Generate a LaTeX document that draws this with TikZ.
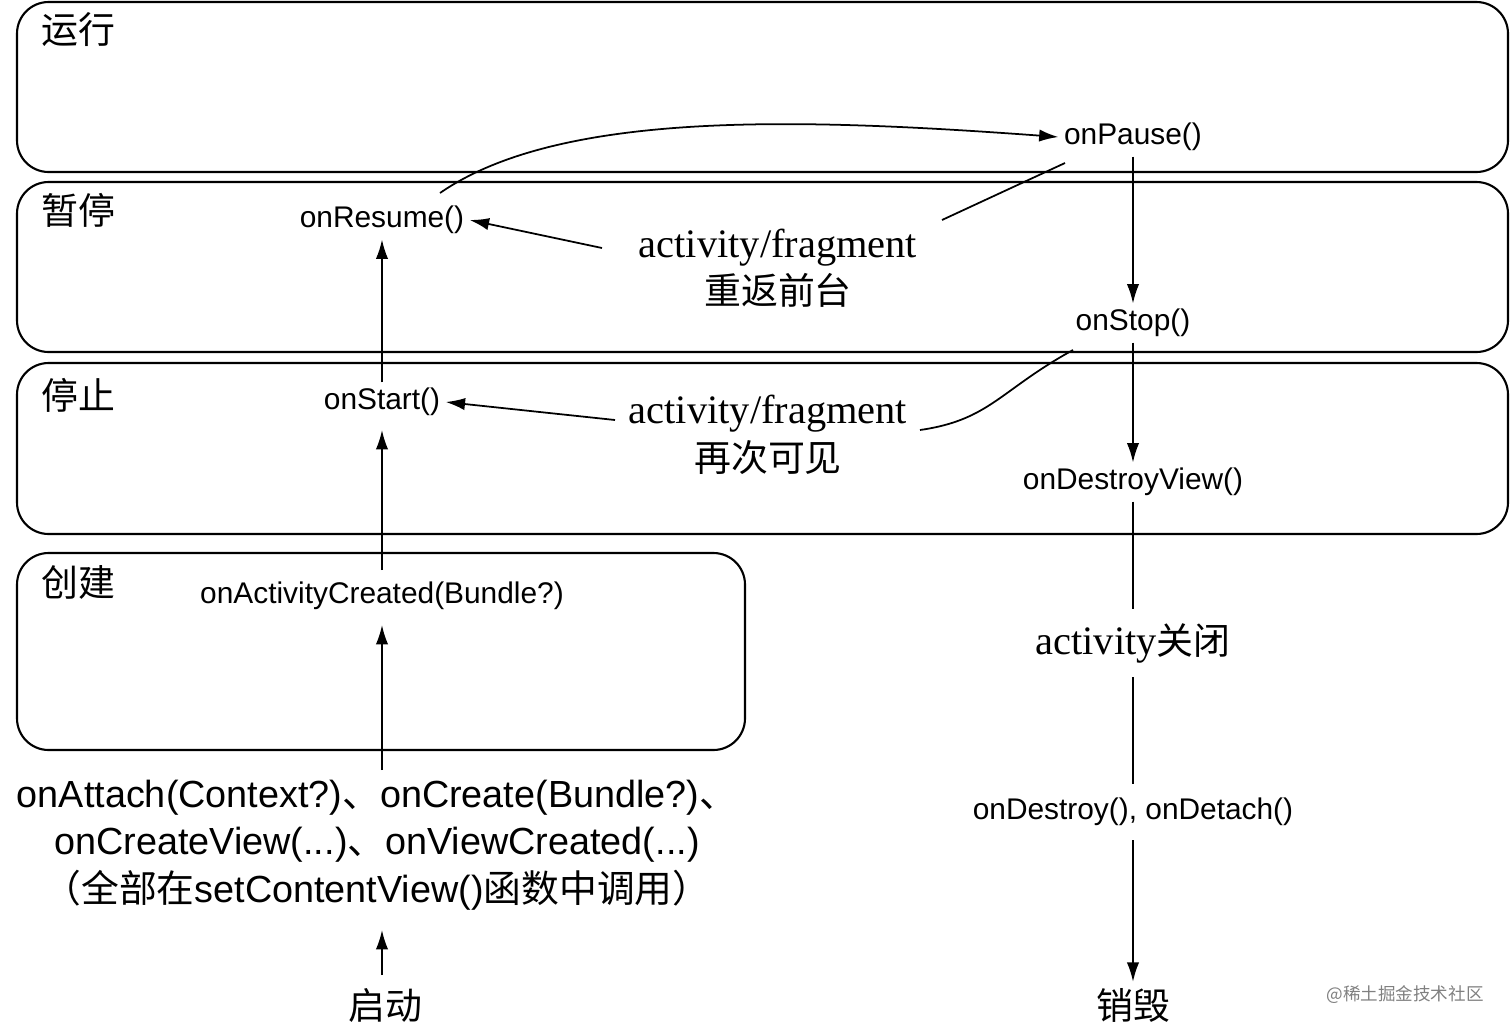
\documentclass[tikz,border=0pt]{standalone}
\usepackage{fontspec}
\usetikzlibrary{arrows.meta}
\setmainfont{Liberation Serif}
\newfontfamily\cjk{Noto Sans CJK SC}
\newfontfamily\sans{Liberation Sans}
\begin{document}
\begin{tikzpicture}[x=0.02cm,y=-0.02cm,
 box/.style={draw,line width=1.2pt,rounded corners=18pt},
 st/.style={font=\cjk\fontsize{21}{23}\selectfont},
 m/.style={font=\sans\fontsize{17}{19}\selectfont,inner sep=3pt},
 af/.style={align=center,font=\fontsize{23}{27}\selectfont,inner sep=1pt},
 ar/.style={-{Latex[length=11pt,width=7pt]},line width=1pt},
 ln/.style={line width=1pt}]
\useasboundingbox (0,0) rectangle (1512,1032);
\draw[box] (17,2) rectangle (1508,172);
\draw[box] (17,182) rectangle (1508,352);
\draw[box] (17,363) rectangle (1508,534);
\draw[box] (17,553) rectangle (745,750);
\node[st] (l1) at (78,30) {运行};
\node[st] (l2) at (78,210) {暂停};
\node[st] (l3) at (78,395) {停止};
\node[st] (l4) at (78,582) {创建};
\node[m] (pause) at (1133,137) {onPause()};
\node[m] (resume) at (382,220) {onResume()};
\node[af] (af1) at (778,268) {activity/fragment\\{\cjk\fontsize{21}{25}\selectfont 重返前台}};
\node[m] (stop) at (1133,323) {onStop()};
\node[m] (start) at (382,402) {onStart()};
\node[af] (af2) at (768,435) {activity/fragment\\{\cjk\fontsize{21}{25}\selectfont 再次可见}};
\node[m] (dview) at (1133,482) {onDestroyView()};
\node[m] (actc) at (382,596) {onActivityCreated(Bundle?)};
\node[af,inner sep=8pt] (close) at (1133,643) {activity{\cjk\fontsize{21}{25}\selectfont 关闭}};
\node[m,inner sep=8pt] (destroy) at (1133,812) {onDestroy(), onDetach()};
\node[align=center,font=\sans\fontsize{21.5}{27}\selectfont,inner sep=1pt] (attach) at (377,845) {onAttach(Context?){\cjk 、}onCreate(Bundle?){\cjk 、}\\onCreateView(...){\cjk 、}onViewCreated(...)\\{\cjk （全部在}setContentView(){\cjk 函数中调用）}};
\node[font=\cjk\fontsize{21}{23}\selectfont] (qd) at (385,1005) {启动};
\node[font=\cjk\fontsize{21}{23}\selectfont] (xh) at (1133,1005) {销毁};
\node[font=\cjk\fontsize{10}{12}\selectfont,text=gray] (wm) at (1405,995) {@稀土掘金技术社区};
\draw[ar] (440,193) .. controls (560,110) and (800,118) .. (pause.west);
\draw[ln] (942,220) -- (1065,163);
\draw[ar] (602,248) -- (resume.east);
\draw[ar] (pause.south) -- (stop.north);
\draw[ln] (1073,350) .. controls (1000,390) and (990,420) .. (920,430);
\draw[ar] (615,420) -- (start.east);
\draw[ar] (stop.south) -- (dview.north);
\draw[ln] (dview.south) -- (close.north);
\draw[ln] (close.south) -- (destroy.north);
\draw[ar] (destroy.south) -- (xh.north);
\draw[ar] (start.north) -- (resume.south);
\draw[ar] (382,570) -- (382,430);
\draw[ar] (382,770) -- (382,625);
\draw[ar] (382,975) -- (382,930);
\end{tikzpicture}
\end{document}
